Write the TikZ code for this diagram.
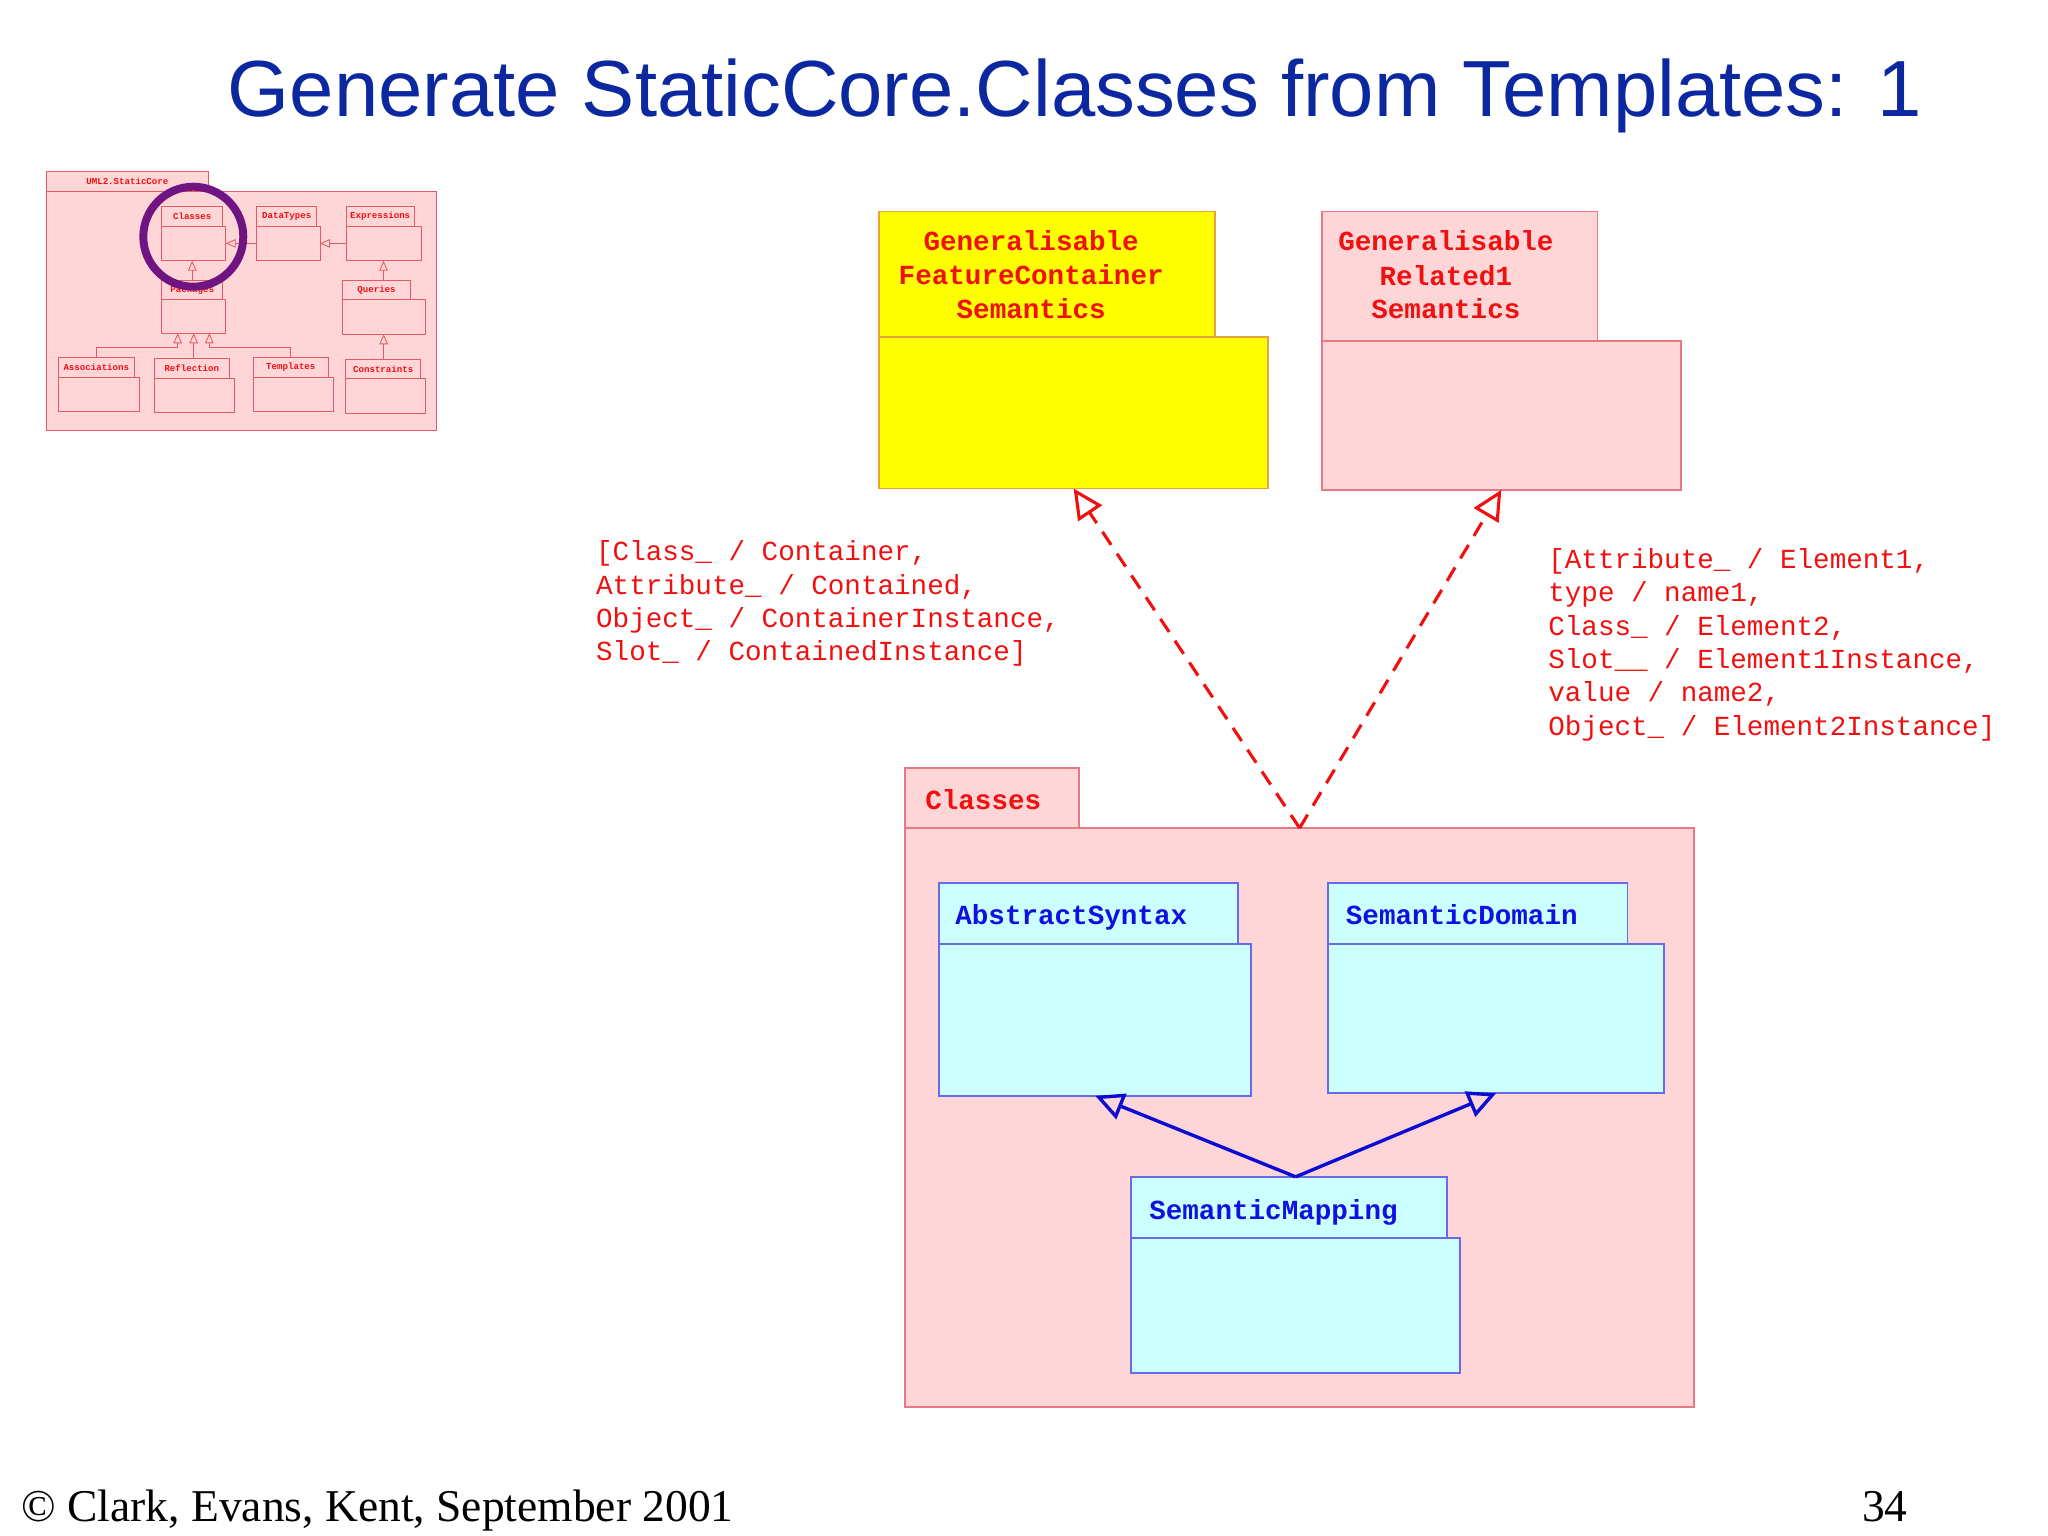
\documentclass[tikz,border=0pt]{standalone}
\usepackage{fontspec}
\setmainfont{Liberation Serif}
\newfontfamily\titlef{Liberation Sans}
\newfontfamily\monof{Liberation Mono}
\usetikzlibrary{arrows.meta,fit}
\definecolor{titleblue}{RGB}{12,40,160}
\definecolor{pinkf}{RGB}{255,214,216}
\definecolor{pinkb}{RGB}{232,120,130}
\definecolor{thumbb}{RGB}{228,90,100}
\definecolor{yelb}{RGB}{232,160,64}
\definecolor{yelf}{RGB}{255,255,0}
\definecolor{cyanf}{RGB}{204,255,255}
\definecolor{cyanb}{RGB}{106,106,232}
\definecolor{txtred}{RGB}{240,16,16}
\definecolor{txtblue}{RGB}{16,16,224}
\definecolor{linkblue}{RGB}{12,12,210}
\definecolor{circ}{RGB}{112,20,130}
\begin{document}
\begin{tikzpicture}[x=0.459184pt,y=-0.459184pt,
  box/.style={inner sep=0pt, outer sep=0pt, line width=0.6pt},
  pinkbox/.style={box, draw=pinkb, fill=pinkf},
  yelbox/.style={box, draw=yelb, fill=yelf},
  cyanbox/.style={box, draw=cyanb, fill=cyanf},
  tbox/.style={inner sep=0pt, outer sep=0pt, line width=0.3pt, draw=thumbb, fill=pinkf},
  ttext/.style={inner sep=0pt, text=txtred, font=\monof\bfseries\fontsize{3.2}{3.8}\selectfont},
  pkgname/.style={inner sep=0pt, text=txtred, font=\monof\bfseries\fontsize{9.7}{11.7}\selectfont, anchor=base},
  bluename/.style={pkgname, text=txtblue, anchor=base west},
  subst/.style={inner sep=0pt, text=txtred, font=\monof\fontsize{9.7}{11.7}\selectfont, anchor=base west},
  realize/.style={draw=txtred, line width=1.1pt, dash pattern=on 5.5pt off 3.7pt, -{Triangle[open,length=10.5pt,width=10pt]}},
  gen/.style={draw=linkblue, line width=1.2pt, -{Triangle[open,length=10pt,width=9.5pt]}},
  tgen/.style={draw=thumbb, line width=0.3pt, -{Triangle[open,length=3.5pt,width=3pt]}},
]
\useasboundingbox (0,0) rectangle (1568,1176);
\fill[white] (0,0) rectangle (1568,1176);

% Title and footer
\node[anchor=base west, inner sep=0pt, text=titleblue, font=\titlef\fontsize{28}{33}\selectfont] (title) at (174,89.3) {Generate StaticCore.Classes from Templates: 1};
\node[anchor=base west, inner sep=0pt, font=\fontsize{16}{19}\selectfont] (foot) at (16,1165) {© Clark, Evans, Kent, September 2001};
\node[anchor=base east, inner sep=0pt, font=\fontsize{16}{19}\selectfont] (pg) at (1461,1165) {34};

% Thumbnail
\begin{scope}[scale=0.765625]
  \node[tbox, fit={(46.7,171.7)(208,191.7)}] (tcoreT) {};
  \node[tbox, fit={(46.7,191.7)(436.7,430.7)}] (tcoreB) {};
  \node[ttext] (tcoreN) at (tcoreT.center) {UML2.StaticCore};
  % Classes
  \node[tbox, fit={(161.7,206.7)(222.7,226)}] (tclT) {};
  \node[tbox, fit={(161.7,226)(225.7,260.7)}] (tclB) {};
  \node[ttext] (tclN) at (tclT.center) {Classes};
  % DataTypes
  \node[tbox, fit={(256.7,206.7)(316.7,226)}] (tdtT) {};
  \node[tbox, fit={(256.7,226)(320,260.7)}] (tdtB) {};
  \node[ttext] (tdtN) at (tdtT.center) {DataTypes};
  % Expressions
  \node[tbox, fit={(346,206.7)(414.3,226)}] (texT) {};
  \node[tbox, fit={(346,226)(421,260.7)}] (texB) {};
  \node[ttext] (texN) at (texT.center) {Expressions};
  % Packages
  \node[tbox, fit={(161.7,280)(222.7,299.3)}] (tpkT) {};
  \node[tbox, fit={(161.7,299.3)(225.7,333.3)}] (tpkB) {};
  \node[ttext] (tpkN) at (tpkT.center) {Packages};
  % Queries
  \node[tbox, fit={(342.3,280)(410.7,299.3)}] (tqrT) {};
  \node[tbox, fit={(342.3,299.3)(425,334.3)}] (tqrB) {};
  \node[ttext] (tqrN) at (tqrT.center) {Queries};
  % Associations
  \node[tbox, fit={(58.3,357.3)(134.3,377.3)}] (tasT) {};
  \node[tbox, fit={(58.3,377.3)(139.3,411.7)}] (tasB) {};
  \node[ttext] (tasN) at (tasT.center) {Associations};
  % Reflection
  \node[tbox, fit={(154.3,358.3)(229.3,378.3)}] (trfT) {};
  \node[tbox, fit={(154.3,378.3)(234.3,412.7)}] (trfB) {};
  \node[ttext] (trfN) at (trfT.center) {Reflection};
  % Templates
  \node[tbox, fit={(253.3,357.3)(328.3,377.3)}] (ttpT) {};
  \node[tbox, fit={(253.3,377.3)(333.3,411.7)}] (ttpB) {};
  \node[ttext] (ttpN) at (ttpT.center) {Templates};
  % Constraints
  \node[tbox, fit={(345.7,359.3)(420.7,378.7)}] (tcoT) {};
  \node[tbox, fit={(345.7,378.7)(425.7,413.3)}] (tcoB) {};
  \node[ttext] (tcoN) at (tcoT.center) {Constraints};
  % thumbnail connectors
  \coordinate (tjoin) at (0,347.7);
  \coordinate (tpkL) at (177.7,333.3);
  \coordinate (tpkR) at (209.3,333.3);
  \draw[tgen] (tdtB.west) -- (tclB.east |- tdtB.west);
  \draw[tgen] (texB.west) -- (tdtB.east |- texB.west);
  \draw[tgen] (tpkT.north) -- (tpkT.north |- tclB.south);
  \draw[tgen] (tqrT.north -| texB.south) -- (texB.south);
  \draw[tgen] (tcoT.north -| tqrB.south) -- (tqrB.south);
  \draw[tgen] (tasT.north) -- (tasT.north |- tjoin) -| (tpkL);
  \draw[tgen] (trfT.north -| tpkB.south) -- (tpkB.south);
  \draw[tgen] (ttpT.north) -- (ttpT.north |- tjoin) -| (tpkR);
  % highlight circle
  \coordinate (tcirc) at (193.3,236.7);
  \draw[circ, line width=2.8pt] (tcirc) circle[radius=50];
\end{scope}

% Generalisable FeatureContainer Semantics
\node[yelbox, fit={(673,162)(930,258)}] (fctab) {};
\node[yelbox, fit={(673,258)(971,374)}] (fcbody) {};
\node[pkgname] (fc1) at (789.5,192) {Generalisable};
\node[pkgname] (fc2) at (789.5,217.8) {FeatureContainer};
\node[pkgname] (fc3) at (789.5,243.6) {Semantics};

% Generalisable Related1 Semantics
\node[pinkbox, fit={(1012,162)(1223,261)}] (r1tab) {};
\node[pinkbox, fit={(1012,261)(1287,375)}] (r1body) {};
\node[pkgname] (r11) at (1107,192) {Generalisable};
\node[pkgname] (r12) at (1107,218.5) {Related1};
\node[pkgname] (r13) at (1107,243.6) {Semantics};

% Classes
\node[pinkbox, fit={(693,588)(826,634)}] (clstab) {};
\node[pinkbox, fit={(693,634)(1297,1077)}] (clsbody) {};
\node[pkgname, anchor=base west] (clsname) at (708,620) {Classes};

% AbstractSyntax
\node[cyanbox, fit={(719,676)(948,723)}] (astab) {};
\node[cyanbox, fit={(719,723)(958,839)}] (asbody) {};
\node[bluename] (asname) at (731,708) {AbstractSyntax};

% SemanticDomain
\node[cyanbox, fit={(1017,676)(1246,723)}] (sdtab) {};
\node[cyanbox, fit={(1017,723)(1274,837)}] (sdbody) {};
\node[bluename] (sdname) at (1030,708) {SemanticDomain};

% SemanticMapping
\node[cyanbox, fit={(866,901)(1108,948)}] (smtab) {};
\node[cyanbox, fit={(866,948)(1118,1051)}] (smbody) {};
\node[bluename] (smname) at (879.5,933.5) {SemanticMapping};

% Connectors
\draw[realize] (clsbody.north) -- (fcbody.south);
\draw[realize] (clsbody.north) -- (r1body.south);
\draw[gen] (smtab.north -| smbody.north) -- (asbody.south);
\draw[gen] (smtab.north -| smbody.north) -- (sdbody.south);

% Substitution labels
\node[subst] (l1) at (456,429.3) {[Class\_ / Container,};
\node[subst] (l2) at (456,455) {Attribute\_ / Contained,};
\node[subst] (l3) at (456,480.5) {Object\_ / ContainerInstance,};
\node[subst] (l4) at (456,506) {Slot\_ / ContainedInstance]};

\node[subst] (r1) at (1185,435) {[Attribute\_ / Element1,};
\node[subst] (r2) at (1185,460.6) {type / name1,};
\node[subst] (r3) at (1185,486.2) {Class\_ / Element2,};
\node[subst] (r4) at (1185,511.8) {Slot\_\_ / Element1Instance,};
\node[subst] (r5) at (1185,537.4) {value / name2,};
\node[subst] (r6) at (1185,563) {Object\_ / Element2Instance]};
\end{tikzpicture}
\end{document}
